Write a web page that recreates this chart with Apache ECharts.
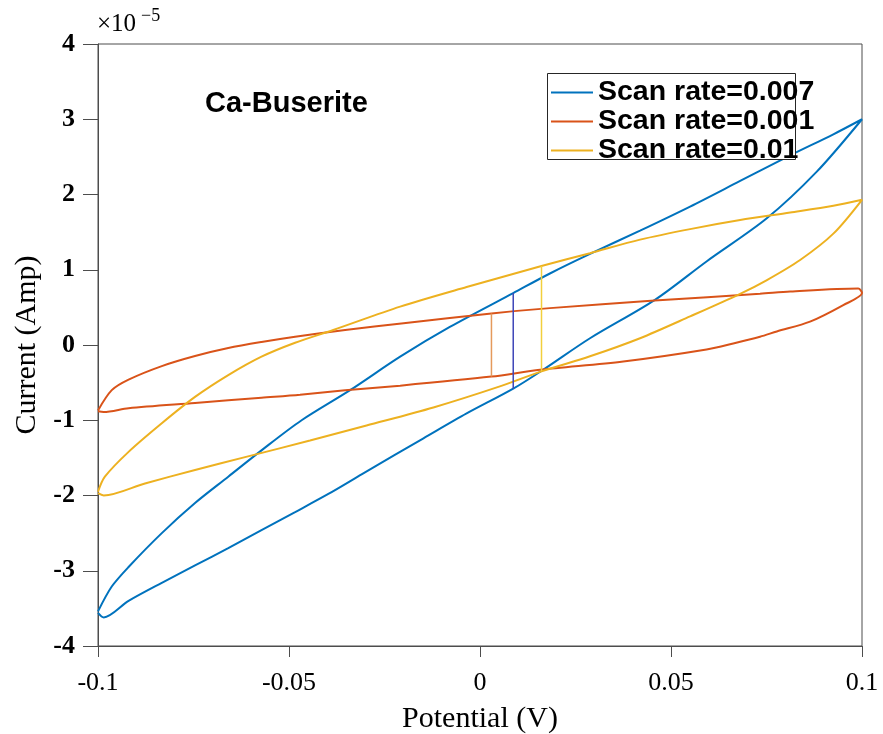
<!DOCTYPE html>
<html>
<head>
<meta charset="utf-8">
<script src="https://cdn.jsdelivr.net/npm/echarts@6/dist/echarts.min.js"></script>
<style>
  html, body { margin: 0; padding: 0; background: #fff; }
  #myChart { width: 883px; height: 734px; }
</style>
</head>
<body>
<div id="myChart"></div>
<script>
// current values are in units of 1e-5 A (axis carries the x10^-5 multiplier)
const seriesNames = ["Scan rate=0.007", "Scan rate=0.001", "Scan rate=0.01"];
const xTicks = [-0.1, -0.05, 0, 0.05, 0.1];
const yTicks = [-4, -3, -2, -1, 0, 1, 2, 3, 4];

// scan rate 0.007 (blue)
const blueUpper = [
  [-0.1, -3.54], [-0.0964, -3.21], [-0.092, -2.95], [-0.0833, -2.5], [-0.0746, -2.1],
  [-0.0659, -1.75], [-0.0572, -1.4], [-0.0467, -1.0], [-0.034, -0.6], [-0.0209, -0.155],
  [-0.0079, 0.24], [0.0087, 0.69], [0.0183, 0.95], [0.0288, 1.21], [0.0419, 1.52],
  [0.055, 1.84], [0.0681, 2.18], [0.0812, 2.52], [0.0925, 2.8], [0.1, 3.0]
];
const blueLower = [
  [0.1, 3.0], [0.0881, 2.3], [0.075, 1.68], [0.0593, 1.11], [0.0458, 0.6],
  [0.0288, 0.09], [0.0165, -0.33], [0.0087, -0.58], [-0.0035, -0.91], [-0.0148, -1.24],
  [-0.0223, -1.46], [-0.031, -1.72], [-0.0397, -1.98], [-0.0484, -2.22], [-0.0572, -2.46],
  [-0.0659, -2.7], [-0.0746, -2.93], [-0.0833, -3.16], [-0.092, -3.4], [-0.0985, -3.62], [-0.1, -3.56]
];
// scan rate 0.001 (orange)
const orangeUpper = [
  [-0.1, -0.87], [-0.0964, -0.6], [-0.092, -0.46], [-0.0833, -0.28], [-0.0746, -0.146],
  [-0.0659, -0.04], [-0.0572, 0.04], [-0.0484, 0.11], [-0.0353, 0.2], [-0.02, 0.29],
  [0.003, 0.42], [0.0183, 0.49], [0.0457, 0.59], [0.0733, 0.68], [0.0812, 0.71], [0.099, 0.75]
];
const orangeLower = [
  [0.1, 0.69], [0.0951, 0.53], [0.0864, 0.31], [0.0777, 0.18], [0.0733, 0.11],
  [0.0663, 0.02], [0.0593, -0.06], [0.0375, -0.22], [0.0157, -0.33], [0.003, -0.42],
  [-0.0209, -0.54], [-0.0353, -0.6], [-0.0471, -0.66], [-0.0572, -0.7], [-0.0746, -0.77],
  [-0.092, -0.84], [-0.0985, -0.89], [-0.1, -0.88]
];
// scan rate 0.01 (yellow)
const yellowUpper = [
  [-0.1, -1.95], [-0.0982, -1.75], [-0.092, -1.42], [-0.0833, -1.04], [-0.0746, -0.69],
  [-0.0659, -0.4], [-0.0572, -0.155], [-0.0484, 0.03], [-0.0384, 0.2], [-0.0209, 0.51],
  [-0.0035, 0.77], [0.0161, 1.05], [0.0288, 1.22], [0.0419, 1.4], [0.055, 1.54],
  [0.0681, 1.66], [0.0812, 1.76], [0.0925, 1.85], [0.1, 1.93]
];
const yellowLower = [
  [0.1, 1.93], [0.0925, 1.48], [0.0838, 1.13], [0.075, 0.86], [0.0681, 0.68],
  [0.055, 0.38], [0.0419, 0.09], [0.0288, -0.15], [0.0161, -0.35], [0.0052, -0.55],
  [-0.0122, -0.83], [-0.0297, -1.07], [-0.0445, -1.27], [-0.0615, -1.49],
  [-0.0746, -1.66], [-0.0877, -1.84], [-0.0985, -2.0], [-0.1, -1.97]
];
// start/end jumps of each scan
const orangeJump = [[0.003, 0.42], [0.003, -0.42]];
const blueJump = [[0.0087, 0.69], [0.0087, -0.58]];
const yellowJump = [[0.0161, 1.05], [0.0161, -0.35]];

const axisColor = "#4d4d4d";
const serif = "Liberation Serif";

function loop(name, color, upper, lower) {
  return {
    name: name,
    type: "line",
    data: upper.concat(lower),
    symbol: "none",
    smooth: 0.3,
    lineStyle: { color: color, width: 2 },
    itemStyle: { color: color },
    z: 2,
  };
}
function jump(color, pts) {
  return {
    name: "jump",
    type: "line",
    data: pts,
    symbol: "none",
    lineStyle: { color: color, width: 1.5 },
    z: 2,
  };
}

const option = {
  animation: false,
  backgroundColor: "#fff",
  grid: {
    left: 98, right: 21, top: 44, bottom: 88,
    outerBoundsMode: "none",
    show: true, borderColor: axisColor, borderWidth: 1,
  },
  legend: {
    data: seriesNames,
    orient: "vertical",
    left: 551,
    top: 78,
    icon: "rect",
    itemWidth: 42,
    itemHeight: 2,
    itemGap: 0,
    padding: 0,
    z: 5,
    textStyle: { fontFamily: "Liberation Sans", fontWeight: "bold", fontSize: 28.5, lineHeight: 27, color: "#000" },
  },
  xAxis: {
    type: "value",
    min: -0.1,
    max: 0.1,
    interval: 0.05,
    name: "Potential (V)",
    nameLocation: "middle",
    nameGap: 58,
    nameTextStyle: { fontFamily: serif, fontSize: 30, color: "#000" },
    axisLine: { onZero: false, lineStyle: { color: axisColor } },
    axisTick: { length: 11, lineStyle: { color: axisColor } },
    splitLine: { show: false },
    axisLabel: {
      margin: 24,
      fontFamily: serif,
      fontSize: 26,
      color: "#000",
      formatter: (v) => (xTicks.includes(+v.toFixed(2)) ? String(+v.toFixed(2)) : ""),
    },
  },
  yAxis: {
    type: "value",
    min: -4,
    max: 4,
    interval: 1,
    name: "Current (Amp)",
    nameLocation: "middle",
    nameGap: 52,
    nameTextStyle: { fontFamily: serif, fontSize: 30, color: "#000" },
    axisLine: { onZero: false, lineStyle: { color: axisColor } },
    axisTick: { length: 15, lineStyle: { color: axisColor } },
    splitLine: { show: false },
    axisLabel: {
      margin: 23,
      fontFamily: serif,
      fontWeight: "bold",
      fontSize: 26,
      color: "#000",
      formatter: (v) => (yTicks.includes(v) ? String(v) : ""),
    },
  },
  graphic: [
    {
      type: "rect",
      z: 3,
      shape: { x: 547.5, y: 73.5, width: 248, height: 86 },
      style: { fill: "#fff", stroke: "#262626", lineWidth: 1 },
    },
    {
      type: "text",
      left: 97,
      top: 12,
      style: { text: "×10", font: "25px 'Liberation Serif'", fill: "#000" },
    },
    {
      type: "text",
      left: 141,
      top: 7,
      style: { text: "−5", font: "18px 'Liberation Serif'", fill: "#000" },
    },
    {
      type: "text",
      left: 205,
      top: 89,
      style: { text: "Ca-Buserite", font: "bold 29px 'Liberation Sans'", fill: "#000" },
    },
  ],
  series: [
    loop(seriesNames[0], "#0072BD", blueUpper, blueLower),
    loop(seriesNames[1], "#D95319", orangeUpper, orangeLower),
    loop(seriesNames[2], "#EDB120", yellowUpper, yellowLower),
    jump("#E59A5C", orangeJump),
    jump("#3F46B8", blueJump),
    jump("#F2CF3C", yellowJump),
  ],
};

const chart = echarts.init(document.getElementById("myChart"));
chart.setOption(option);
</script>
</body>
</html>
